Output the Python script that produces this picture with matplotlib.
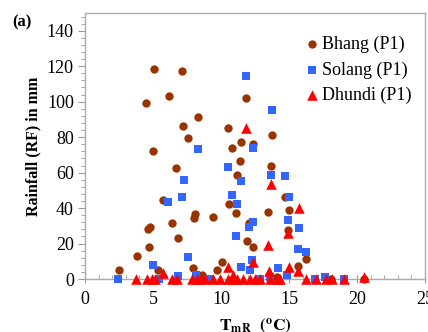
import matplotlib
matplotlib.use("Agg")
import matplotlib.pyplot as plt
from matplotlib.ticker import MultipleLocator

plt.rcParams['font.family'] = ['Liberation Serif', 'DejaVu Serif']
plt.rcParams['mathtext.fontset'] = 'stix'

# Bhang (P1)
bhang_t = [5.07, 7.13, 6.15, 4.46, 8.33, 7.23, 7.60, 5.02, 6.69, 11.86, 10.54, 13.73,
           11.49, 12.33, 10.83, 11.42, 13.68, 5.71, 8.09, 8.01, 4.78, 4.65, 6.42, 6.82,
           4.68, 3.80, 7.92, 2.52, 5.39, 8.58, 11.15, 10.61, 14.71, 15.02, 11.10, 13.48,
           9.39, 12.06, 14.95, 11.89, 12.38, 16.25, 10.05, 9.73, 15.68, 14.14, 18.09, 20.51]
bhang_rf = [118.4, 117.3, 103.3, 99.3, 91.4, 86.3, 79.3, 72.3, 62.5, 102.0, 85.4, 81.2,
            77.4, 76.3, 73.7, 66.3, 63.5, 44.6, 36.8, 34.2, 29.6, 28.2, 31.5, 23.0,
            18.0, 13.0, 6.4, 5.1, 5.1, 2.3, 58.4, 42.3, 46.1, 39.1, 37.2, 37.6,
            34.7, 31.5, 27.4, 21.5, 18.0, 11.1, 9.4, 5.1, 7.6, 1.1, 0.0, 0.0]

# Solang (P1)
solang_t = [8.33, 11.86, 13.73, 12.33, 10.54, 7.26, 6.13, 7.13, 7.60, 5.02, 2.45, 5.44,
            6.86, 8.16, 11.49, 13.68, 14.71, 10.83, 11.15, 15.02, 12.38, 12.06, 14.95,
            15.74, 11.10, 15.66, 16.25, 11.45, 12.26, 12.13, 14.21, 14.83, 13.60, 16.91,
            17.65, 19.04, 9.10, 12.90]
solang_rf = [73.3, 114.6, 95.2, 74.0, 62.9, 55.7, 43.2, 46.1, 12.3, 8.1, 0.0, 0.0,
             1.7, 2.3, 55.0, 58.4, 58.0, 47.4, 42.3, 46.1, 32.3, 29.6, 33.0,
             28.7, 24.0, 16.8, 15.1, 7.0, 10.8, 5.1, 6.0, 2.3, 1.3, 0.0,
             1.3, 0.0, 0.0, 0.0]

# Dhundi (P1)
dhundi_t = [11.86, 13.68, 5.71, 15.74, 14.95, 13.48, 10.54, 12.33, 15.02, 15.68, 13.55,
            20.51, 10.90,
            3.75, 4.53, 4.90, 5.15, 6.38, 6.74, 7.87, 8.24, 8.46, 8.82, 9.43, 9.93, 10.54,
            10.79, 11.15, 11.64, 12.13, 12.50, 12.87, 13.60, 14.10, 14.34, 16.25, 16.99,
            17.72, 18.14, 19.04]
dhundi_rf = [85.0, 53.8, 3.6, 40.0, 25.9, 19.3, 7.0, 9.8, 7.0, 4.5, 4.5,
             1.3, 2.3,
             0, 0, 0, 0, 0, 0, 0, 0, 0, 0, 0, 0, 0,
             0, 0, 0, 0, 0, 0, 0, 0, 0, 0, 0,
             0, 0, 0]

fig = plt.figure(figsize=(4.28, 3.32), dpi=100)
ax = fig.add_axes([85/428, 1-279/332, 340/428, (279-13)/332])

ax.scatter(bhang_t, bhang_rf, s=36, marker='o', color='#993300', label='Bhang (P1)',
           clip_on=False, zorder=3, linewidths=0)
ax.scatter(solang_t, solang_rf, s=36, marker='s', color='#3366FF', label='Solang (P1)',
           clip_on=False, zorder=3, linewidths=0)
ax.scatter(dhundi_t, dhundi_rf, s=58, marker='^', color='#FF0000', label='Dhundi (P1)',
           clip_on=False, zorder=4, linewidths=0)

ax.set_xlim(0, 25)
ax.set_ylim(0, 150)
ax.set_xticks([0, 5, 10, 15, 20, 25])
ax.set_yticks([0, 20, 40, 60, 80, 100, 120, 140])
ax.xaxis.set_minor_locator(MultipleLocator(1))
ax.yaxis.set_minor_locator(MultipleLocator(4))

for s in ax.spines.values():
    s.set_color('#aaaaaa')
    s.set_linewidth(1.0)

ax.tick_params(axis='y', which='major', direction='out', length=5, color='#999999',
               labelsize=13, pad=3)
ax.tick_params(axis='y', which='minor', direction='out', length=3, color='#999999')
ax.tick_params(axis='x', which='major', direction='inout', length=6, color='#999999',
               labelsize=13, pad=6)
ax.tick_params(axis='x', which='minor', direction='in', length=3, color='#999999')

ax.set_ylabel('Rainfall (RF) in mm', fontsize=11.5, fontweight='bold', labelpad=4)
ax.set_xlabel(r'$\mathbf{T}_{\mathbf{mR}}$  $\mathbf{(^{o}C)}$', fontsize=12.5, labelpad=6)

fig.text(12/428, 1-22/332, '(a)', fontsize=12, fontweight='bold', va='center')

leg = ax.legend(loc='upper left', bbox_to_anchor=(0.641, 0.914), frameon=False,
                fontsize=13, handletextpad=0.05, handlelength=1.0, labelspacing=0.45,
                borderaxespad=0, borderpad=0)

fig.savefig('out.png', dpi=100)
